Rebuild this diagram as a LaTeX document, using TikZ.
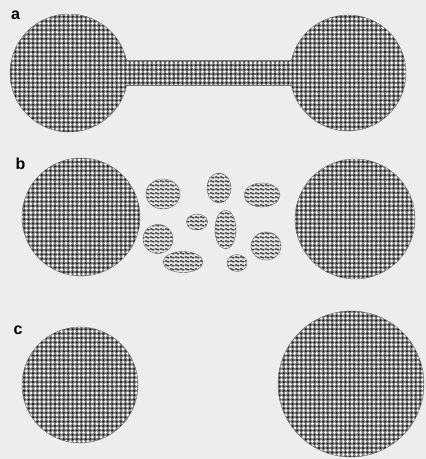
\documentclass[tikz,border=0pt]{standalone}
\usepackage{fontspec}
\setsansfont{Liberation Sans}
\usepackage{tikz}
\usetikzlibrary{patterns,patterns.meta}
\definecolor{paper}{HTML}{EDEDED}
\definecolor{dotbase}{HTML}{7A7A7A}
\definecolor{dotink}{HTML}{151515}
\definecolor{wavebase}{HTML}{E2E2E2}
\definecolor{waveink}{HTML}{404040}
\definecolor{rim}{HTML}{707070}

% wavy lines for the small patches
\pgfdeclarepatternformonly{wavy}{\pgfqpoint{0pt}{0pt}}{\pgfqpoint{5pt}{4pt}}{\pgfqpoint{5pt}{4pt}}{
  \pgfsetlinewidth{1.4pt}
  \pgfpathmoveto{\pgfqpoint{0pt}{2pt}}
  \pgfpathsine{\pgfqpoint{1.25pt}{0.8pt}}
  \pgfpathcosine{\pgfqpoint{1.25pt}{-0.8pt}}
  \pgfpathsine{\pgfqpoint{1.25pt}{-0.8pt}}
  \pgfpathcosine{\pgfqpoint{1.25pt}{0.8pt}}
  \pgfusepath{stroke}}

\begin{document}
\begin{tikzpicture}[
    x=1pt, y=-1pt,
    lbl/.style={font=\sffamily\bfseries\fontsize{16}{16}\selectfont, inner sep=0pt},
    checks/.style={preaction={fill=dotbase},
                   preaction={pattern={Dots[radius=1.45pt, distance=4.4pt]}, pattern color=white},
                   pattern={Dots[radius=1.05pt, distance=4.4pt, xshift=2.2pt, yshift=2.2pt]},
                   pattern color=dotink},
    habitat/.style={checks, draw=rim, line width=0.4pt},
    patch/.style={preaction={fill=wavebase}, pattern=wavy, pattern color=waveink,
                  draw=rim, line width=0.4pt},
  ]

  % paper
  \fill[paper] (0,0) rectangle (426,459);
  \useasboundingbox (0,0) rectangle (426,459);

  % panel a: two reserves joined by a corridor
  \node[lbl] (la) at (15.5,15) {a};
  \path[habitat] (69,73) circle[radius=59];
  \path[habitat] (348,73) circle[radius=58];
  \path[checks] (126,60) rectangle (291,85);
  \draw[rim, line width=0.4pt] (126,60) -- (291,60) (126,85) -- (291,85);

  % panel b: two reserves with stepping-stone patches
  \node[lbl] (lb) at (20.5,163.5) {b};
  \path[habitat] (81,217) circle[radius=59];
  \path[habitat] (355,219) circle[radius=60];
  \path[patch] (163,194) ellipse[x radius=17, y radius=15];
  \path[patch] (219,188) ellipse[x radius=12, y radius=15];
  \path[patch] (262,195) ellipse[x radius=18, y radius=12];
  \path[patch] (197,222) ellipse[x radius=10.5, y radius=8];
  \path[patch] (225.5,229.5) ellipse[x radius=10.5, y radius=19.5];
  \path[patch] (158,239) ellipse[x radius=15, y radius=14.5];
  \path[patch] (266,246) ellipse[x radius=15, y radius=14];
  \path[patch] (183,262) ellipse[x radius=20, y radius=10.5];
  \path[patch] (237,263) ellipse[x radius=10, y radius=8.5];

  % panel c: two isolated reserves
  \node[lbl] (lc) at (18,330) {c};
  \path[habitat] (80,385) circle[radius=58];
  \path[habitat] (351,384) circle[radius=73];
\end{tikzpicture}
\end{document}
